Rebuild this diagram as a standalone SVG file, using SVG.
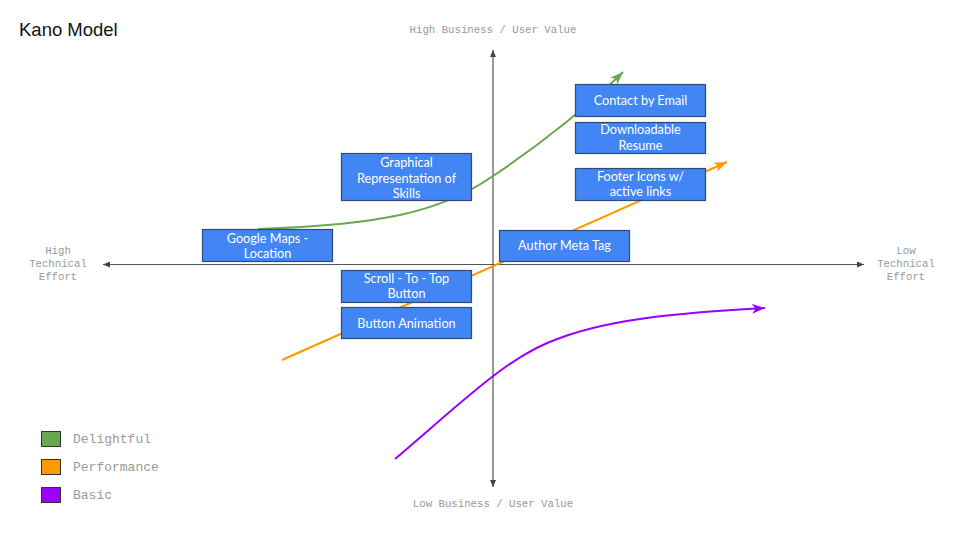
<svg xmlns="http://www.w3.org/2000/svg" width="957" height="537" viewBox="0 0 957 537">
<style>
.ax{stroke:#555;stroke-width:1.2;fill:none}
.axl{font-family:"Liberation Mono","DejaVu Sans Mono",monospace;font-size:10.7px;fill:#999;text-anchor:middle}
.leg{font-family:"Liberation Mono","DejaVu Sans Mono",monospace;font-size:13px;fill:#999}
.box{fill:#4285f4;stroke:#2f4a78;stroke-width:1.2}
.bt{font-family:Lato,"Open Sans",sans-serif;font-size:12.7px;fill:#fff;text-anchor:middle}
.cv{fill:none;stroke-width:2}
</style>
<defs>
<marker id="axa" markerUnits="userSpaceOnUse" markerWidth="8" markerHeight="6" refX="7" refY="3" orient="auto-start-reverse"><path d="M0,0 L7,3 L0,6 z" fill="#444"/></marker>
<marker id="ag" markerUnits="userSpaceOnUse" markerWidth="14" markerHeight="10" refX="13" refY="5" orient="auto"><path d="M0,0 L13,5 L0,10 L3.5,5 z" fill="#6aa84f"/></marker>
<marker id="ao" markerUnits="userSpaceOnUse" markerWidth="14" markerHeight="10" refX="13" refY="5" orient="auto"><path d="M0,0 L13,5 L0,10 L3.5,5 z" fill="#ff9900"/></marker>
<marker id="ap" markerUnits="userSpaceOnUse" markerWidth="14" markerHeight="10" refX="13" refY="5" orient="auto"><path d="M0,0 L13,5 L0,10 L3.5,5 z" fill="#9900ff"/></marker>
</defs>
<rect width="957" height="537" fill="#fff"/>
<text x="19" y="36" font-family="Liberation Sans,Arial,sans-serif" font-size="18.5" fill="#111">Kano Model</text>

<g id="axes">
<line class="ax" x1="493" y1="50" x2="493" y2="487" marker-start="url(#axa)" marker-end="url(#axa)"/>
<line class="ax" x1="103" y1="264.5" x2="864" y2="264.5" marker-start="url(#axa)" marker-end="url(#axa)"/>
<text class="axl" x="493" y="33">High Business / User Value</text>
<text class="axl" x="493" y="507">Low Business / User Value</text>
<text class="axl" x="58" y="254">High</text>
<text class="axl" x="58" y="267">Technical</text>
<text class="axl" x="58" y="280">Effort</text>
<text class="axl" x="906" y="254">Low</text>
<text class="axl" x="906" y="267">Technical</text>
<text class="axl" x="906" y="280">Effort</text>
</g>

<g id="connectors">
<path class="cv" stroke="#6aa84f" d="M258 229 C380 225 440 212 490 178 C540 145 592 103 623 72" marker-end="url(#ag)"/>
<path class="cv" stroke="#ff9900" d="M282 360 L727 162" marker-end="url(#ao)"/>
<path class="cv" stroke="#9900ff" d="M395 459 C470 395 510 355 560 338 C620 316 700 312 765 308" marker-end="url(#ap)"/>
</g>

<g id="n-graphical"><rect class="box" x="341.5" y="153.5" width="130" height="47"/>
<text class="bt" x="406.5" y="167">Graphical</text><text class="bt" x="406.5" y="183">Representation of</text><text class="bt" x="406.5" y="198">Skills</text></g>
<g id="n-googlemaps"><rect class="box" x="202.5" y="229.5" width="130" height="32"/>
<text class="bt" x="267.5" y="243">Google Maps -</text><text class="bt" x="267.5" y="258">Location</text></g>
<g id="n-scroll"><rect class="box" x="341.5" y="270.5" width="130" height="32"/>
<text class="bt" x="406.5" y="283">Scroll - To - Top</text><text class="bt" x="406.5" y="298">Button</text></g>
<g id="n-buttonanim"><rect class="box" x="341.5" y="307.5" width="130" height="31"/>
<text class="bt" x="406.5" y="328">Button Animation</text></g>
<g id="n-contact"><rect class="box" x="575.5" y="84.5" width="130" height="32"/>
<text class="bt" x="640.5" y="105">Contact by Email</text></g>
<g id="n-resume"><rect class="box" x="575.5" y="122.5" width="130" height="31"/>
<text class="bt" x="640.5" y="134">Downloadable</text><text class="bt" x="640.5" y="150">Resume</text></g>
<g id="n-footer"><rect class="box" x="575.5" y="168.5" width="130" height="32"/>
<text class="bt" x="640.5" y="181">Footer Icons w/</text><text class="bt" x="640.5" y="196">active links</text></g>
<g id="n-author"><rect class="box" x="499.5" y="230.5" width="130" height="31"/>
<text class="bt" x="564.5" y="250">Author Meta Tag</text></g>

<g id="legend">
<rect x="41.5" y="431.5" width="19" height="15" fill="#6aa84f" stroke="#333" stroke-width="1"/>
<text class="leg" x="73" y="443">Delightful</text>
<rect x="41.5" y="459.5" width="19" height="15" fill="#ff9900" stroke="#333" stroke-width="1"/>
<text class="leg" x="73" y="471">Performance</text>
<rect x="41.5" y="487.5" width="19" height="15" fill="#9900ff" stroke="#333" stroke-width="1"/>
<text class="leg" x="73" y="499">Basic</text>
</g>
</svg>
